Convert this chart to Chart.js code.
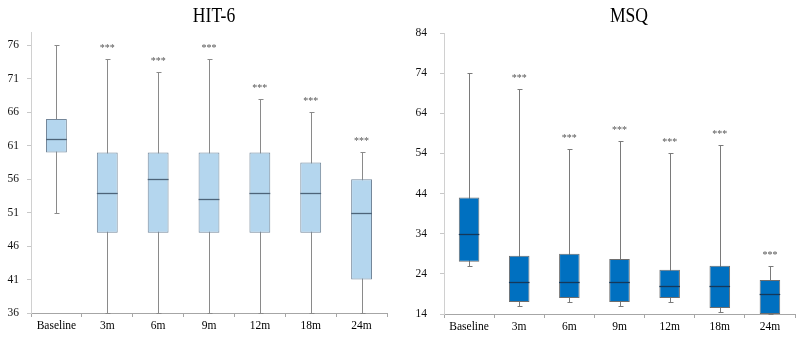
<!DOCTYPE html>
<html><head><meta charset="utf-8">
<script src="https://cdn.jsdelivr.net/npm/chart.js@4.4.0/dist/chart.umd.min.js"></script>
<style>
html,body{margin:0;padding:0;background:#fff;}
#wrap{position:relative;width:798px;height:337px;overflow:hidden;background:#fff;}
.cv{position:absolute;top:0;}
.title{position:absolute;top:4px;font-family:"Liberation Serif",serif;font-size:20px;color:#000;transform:translateX(-50%) scaleX(0.88);white-space:nowrap;}
</style></head><body>
<div id="wrap">
<canvas id="c1" class="cv" width="400" height="337" style="left:0"></canvas>
<canvas id="c2" class="cv" width="398" height="337" style="left:400px"></canvas>
<div class="title" style="left:214px">HIT-6</div>
<div class="title" style="left:629px">MSQ</div>
</div>
<script>
const categories = ['Baseline','3m','6m','9m','12m','18m','24m'];

const hitMin    = [51, 36, 36, 36, 36, 36, 36];
const hitQ1     = [60, 48, 48, 48, 48, 48, 41];
const hitMedian = [62, 54, 56, 53, 54, 54, 51];
const hitQ3     = [65, 60, 60, 60, 60, 58.5, 56];
const hitMax    = [76, 74, 72, 74, 68, 66, 60];
const hitSig    = ['', '***', '***', '***', '***', '***', '***'];
const hitTicks  = [36, 41, 46, 51, 56, 61, 66, 71, 76];

const msqMin    = [26, 16, 17, 16, 17, 14.5, 14];
const msqQ1     = [27, 17, 18, 17, 18, 15.5, 14];
const msqMedian = [34, 22, 22, 22, 21, 21, 19];
const msqQ3     = [43, 28.5, 29, 27.7, 25, 26, 22.5];
const msqMax    = [74, 70, 55, 57, 54, 56, 26];
const msqSig    = ['', '***', '***', '***', '***', '***', '***'];
const msqTicks  = [14, 24, 34, 44, 54, 64, 74, 84];

const boxPlugin = {
  id: 'boxplot',
  beforeDatasetsDraw(chart, args, o) {
    const ctx = chart.ctx, y = chart.scales.y;
    const meta = chart.getDatasetMeta(0);
    ctx.save();
    ctx.strokeStyle = o.whiskerColor;
    ctx.lineWidth = 1;
    meta.data.forEach((bar, i) => {
      const x = Math.round(bar.x) + 0.5;
      const yMin = Math.round(y.getPixelForValue(o.min[i])) + 0.5;
      const yMax = Math.round(y.getPixelForValue(o.max[i])) + 0.5;
      ctx.beginPath();
      ctx.moveTo(x, yMin); ctx.lineTo(x, yMax);
      ctx.moveTo(x - 2, yMin); ctx.lineTo(x + 3, yMin);
      ctx.moveTo(x - 2, yMax); ctx.lineTo(x + 3, yMax);
      ctx.stroke();
    });
    ctx.restore();
  },
  afterDatasetsDraw(chart, args, o) {
    const ctx = chart.ctx, y = chart.scales.y;
    const meta = chart.getDatasetMeta(0);
    ctx.save();
    meta.data.forEach((bar, i) => {
      const half = bar.width / 2;
      const ym = Math.round(y.getPixelForValue(o.median[i])) + 0.5;
      ctx.strokeStyle = o.medianColor;
      ctx.lineWidth = 1.3;
      ctx.beginPath();
      ctx.moveTo(bar.x - half, ym); ctx.lineTo(bar.x + half, ym);
      ctx.stroke();
      if (o.sig[i]) {
        const yMax = y.getPixelForValue(o.max[i]);
        ctx.fillStyle = '#555';
        ctx.font = '10px "Liberation Serif"';
        ctx.textAlign = 'center';
        ctx.textBaseline = 'alphabetic';
        ctx.fillText(o.sig[i], bar.x, yMax - 8);
      }
    });
    ctx.restore();
  }
};

function makeChart(id, d) {
  const ctx = document.getElementById(id).getContext('2d');
  return new Chart(ctx, {
    type: 'bar',
    data: {
      labels: categories,
      datasets: [{
        data: categories.map((c, i) => [d.q1[i], d.q3[i]]),
        backgroundColor: d.fill,
        borderColor: d.border,
        borderWidth: 1,
        borderSkipped: false,
        categoryPercentage: 0.5,
        barPercentage: 0.82
      }]
    },
    options: {
      responsive: false,
      animation: false,
      layout: { padding: { top: d.top, right: d.right, left: 0, bottom: 0 } },
      plugins: {
        legend: { display: false },
        tooltip: { enabled: false },
        title: { display: false },
        boxplot: { min: d.min, max: d.max, median: d.median, sig: d.sig,
                   whiskerColor: d.whisker, medianColor: d.medianColor }
      },
      scales: {
        x: {
          grid: { display: true, offset: true, drawOnChartArea: false, drawTicks: true, tickLength: 4, color: '#a6a6a6' },
          border: { display: true, color: '#a6a6a6' },
          ticks: { font: { family: 'Liberation Serif', size: 11.5 }, color: '#000', padding: 2, maxRotation: 0, autoSkip: false },
          afterFit(s) { s.height = d.xh; }
        },
        y: {
          min: d.yMin, max: d.yMax,
          grid: { display: true, drawOnChartArea: false, drawTicks: true, tickLength: 4, color: '#c8c8c8' },
          border: { display: true, color: '#d0d0d0' },
          ticks: { font: { family: 'Liberation Serif', size: 11.5 }, color: '#111', padding: d.tickPad },
          afterBuildTicks(s) { s.ticks = d.ticks.map(v => ({ value: v })); },
          afterFit(s) { s.width = d.yw; }
        }
      }
    },
    plugins: [boxPlugin]
  });
}

makeChart('c1', {
  q1: hitQ1, q3: hitQ3, min: hitMin, max: hitMax, median: hitMedian, sig: hitSig, ticks: hitTicks,
  yMin: 36, yMax: 78, fill: '#b4d6ee', border: '#74879a', whisker: '#8a8a8a', medianColor: '#4d6479',
  top: 32, right: 13, xh: 24, yw: 31, tickPad: 8
});
makeChart('c2', {
  q1: msqQ1, q3: msqQ3, min: msqMin, max: msqMax, median: msqMedian, sig: msqSig, ticks: msqTicks,
  yMin: 14, yMax: 84, fill: '#0070c0', border: '#6e6e6e', whisker: '#7a7a7a', medianColor: '#15385a',
  top: 33, right: 3, xh: 23, yw: 44, tickPad: 13
});
</script>
</body></html>
